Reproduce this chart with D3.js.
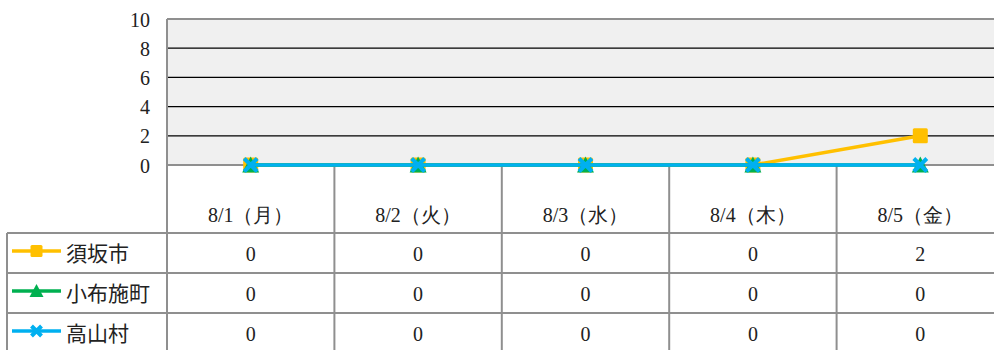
<!DOCTYPE html>
<html><head><meta charset="utf-8">
<script src="https://cdn.jsdelivr.net/npm/d3@7/dist/d3.min.js"></script>
<style>
body{margin:0;background:#fff;}
</style></head><body>
<svg id="c" width="994" height="350"></svg>
<script>
const categories = ["8/1（月）","8/2（火）","8/3（水）","8/4（木）","8/5（金）"];
const seriesNames = ["須坂市","小布施町","高山村"];
const suzaka = [0,0,0,0,2];
const obuse = [0,0,0,0,0];
const takayama = [0,0,0,0,0];
const yTicks = [0,2,4,6,8,10];
const colors = ["#FFC000","#00B050","#00B0F0"];
const markers = ["square","triangle","cross"];

const series = [suzaka, obuse, takayama].map((v,i)=>({name:seriesNames[i],values:v,color:colors[i],marker:markers[i]}));

const FONT = "Liberation Serif";
const svg = d3.select("#c");
const plotL = 167, plotT = 19, plotB = 165, colW = 167.4;
const x = d3.scaleBand().domain(categories).range([plotL, plotL + colW*categories.length]).padding(0);
const y = d3.scaleLinear().domain([0,10]).range([plotB, plotT]);
const gray = "#8f8f8f";

svg.append("rect").attr("x",plotL).attr("y",plotT).attr("width",994-plotL+10).attr("height",plotB-plotT).attr("fill","#f0f0f0");
svg.selectAll("line.grid").data(yTicks.filter(d=>d>0 && d<10)).enter().append("line")
  .attr("x1",plotL).attr("x2",1000).attr("y1",d=>y(d)).attr("y2",d=>y(d))
  .attr("stroke","#000").attr("stroke-width",1.2);
svg.append("line").attr("x1",plotL).attr("x2",1000).attr("y1",y(10)).attr("y2",y(10)).attr("stroke",gray).attr("stroke-width",2);
svg.append("line").attr("x1",plotL).attr("x2",1000).attr("y1",y(0)).attr("y2",y(0)).attr("stroke",gray).attr("stroke-width",2);
svg.append("line").attr("x1",plotL).attr("x2",plotL).attr("y1",y(10)).attr("y2",350).attr("stroke",gray).attr("stroke-width",2);

const yAxis = d3.axisLeft(y).tickValues(yTicks).tickSize(0).tickPadding(0);
const ya = svg.append("g").attr("transform",`translate(${plotL-17},0)`).call(yAxis);
ya.attr("font-family",FONT).attr("font-size",20);
ya.select(".domain").remove();
ya.selectAll("text").style("font-family",FONT).style("font-size","20px").style("fill","#222").attr("dy","0.35em");

const rowTop = [233,273,313];
const cats = categories;
svg.selectAll("line.col").data(cats.slice(1)).enter().append("line")
  .attr("x1",d=>x(d)).attr("x2",d=>x(d)).attr("y1",plotB).attr("y2",350)
  .attr("stroke",gray).attr("stroke-width",2);
svg.selectAll("line.row").data(rowTop).enter().append("line")
  .attr("x1",7).attr("x2",1000).attr("y1",d=>d).attr("y2",d=>d)
  .attr("stroke",gray).attr("stroke-width",2);
svg.append("line").attr("x1",7).attr("x2",7).attr("y1",rowTop[0]).attr("y2",350).attr("stroke",gray).attr("stroke-width",2);

svg.selectAll("text.cat").data(cats).enter().append("text")
  .attr("x",d=>x(d)+x.bandwidth()/2).attr("y",222).attr("text-anchor","middle")
  .style("font-family",FONT).style("font-size","20px").style("fill","#222").text(d=>d);

function drawMarker(g, type, cx, cy, color, s){
  if(type==="square"){
    g.append("rect").attr("x",cx-s/2).attr("y",cy-s/2).attr("width",s).attr("height",s).attr("rx",1.5).attr("fill",color);
  } else if(type==="triangle"){
    g.append("path").attr("d",`M${cx},${cy-s/2-1}L${cx+s/2+1},${cy+s/2}L${cx-s/2-1},${cy+s/2}Z`).attr("fill",color);
  } else {
    const h=s/2-1;
    g.append("path").attr("d",`M${cx-h},${cy-h}L${cx+h},${cy+h}M${cx-h},${cy+h}L${cx+h},${cy-h}`).attr("stroke",color).attr("stroke-width",4);
  }
}

const line = d3.line().x((d,i)=>x(cats[i])+x.bandwidth()/2).y(d=>y(d));
series.forEach(s=>{
  const g = svg.append("g");
  g.append("path").datum(s.values).attr("d",line).attr("fill","none").attr("stroke",s.color).attr("stroke-width",3.5);
  s.values.forEach((v,i)=>drawMarker(g, s.marker, x(cats[i])+x.bandwidth()/2, y(v), s.color, 15));
});

series.forEach((s,r)=>{
  const cy = rowTop[r] + 21;
  const g = svg.append("g");
  g.append("line").attr("x1",12).attr("x2",61).attr("y1",cy-3).attr("y2",cy-3).attr("stroke",s.color).attr("stroke-width",3.5);
  drawMarker(g, s.marker, 36.5, cy-3, s.color, 12);
  g.append("text").attr("x",66).attr("y",cy+7).style("font-size","21px").style("font-family","Noto Sans CJK JP").style("fill","#222").text(s.name);
  svg.selectAll(null).data(s.values).enter().append("text")
    .attr("x",(d,i)=>x(cats[i])+x.bandwidth()/2).attr("y",cy+7).attr("text-anchor","middle")
    .style("font-family",FONT).style("font-size","20px").style("fill","#222").text(d=>d);
});
</script></body></html>
